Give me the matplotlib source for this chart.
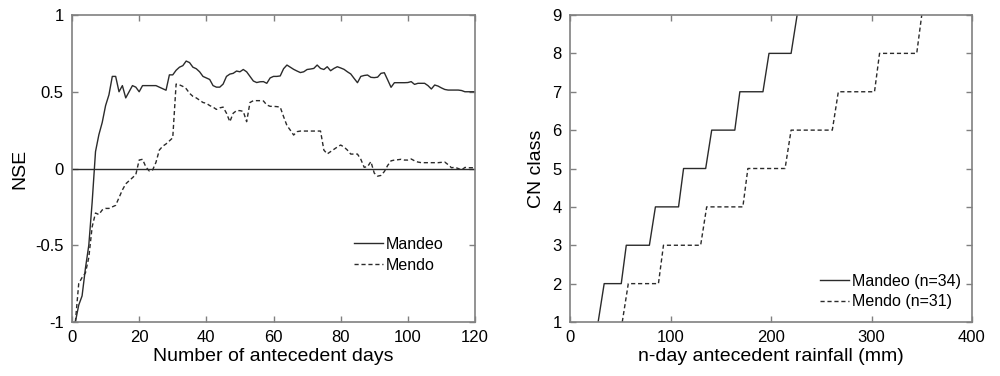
import numpy as np
import matplotlib
matplotlib.use('Agg')
import matplotlib.pyplot as plt

plt.rcParams['font.family'] = ['Liberation Sans', 'DejaVu Sans']
plt.rcParams['axes.unicode_minus'] = False

# NSE against number of antecedent days (1..120)
days = np.arange(1, 121)
nse_mandeo = [
    -1.00, -0.89, -0.83, -0.65, -0.50, -0.22, 0.11, 0.22, 0.30, 0.41,
    0.48, 0.60, 0.60, 0.50, 0.54, 0.46, 0.50, 0.54, 0.53, 0.50,
    0.54, 0.54, 0.54, 0.54, 0.54, 0.53, 0.52, 0.51, 0.61, 0.61,
    0.64, 0.66, 0.67, 0.70, 0.69, 0.66, 0.65, 0.63, 0.60, 0.59,
    0.58, 0.54, 0.53, 0.53, 0.55, 0.60, 0.615, 0.62, 0.635, 0.63,
    0.645, 0.63, 0.60, 0.57, 0.56, 0.565, 0.566, 0.555, 0.59, 0.60,
    0.60, 0.603, 0.65, 0.674, 0.66, 0.646, 0.635, 0.625, 0.63, 0.645,
    0.648, 0.652, 0.674, 0.652, 0.645, 0.663, 0.637, 0.652, 0.663, 0.655,
    0.646, 0.63, 0.616, 0.587, 0.559, 0.60, 0.606, 0.609, 0.594, 0.592,
    0.595, 0.62, 0.624, 0.577, 0.529, 0.559, 0.559, 0.559, 0.559, 0.56,
    0.566, 0.548, 0.555, 0.555, 0.555, 0.54, 0.518, 0.544, 0.537, 0.525,
    0.515, 0.511, 0.511, 0.511, 0.511, 0.508, 0.50, 0.50, 0.50, 0.50]
nse_mendo = [
    -1.00, -0.75, -0.71, -0.68, -0.58, -0.38, -0.29, -0.30, -0.27, -0.26,
    -0.26, -0.25, -0.24, -0.19, -0.14, -0.10, -0.08, -0.06, -0.04, 0.055,
    0.06, 0.01, -0.016, -0.01, 0.04, 0.12, 0.145, 0.16, 0.18, 0.20,
    0.55, 0.545, 0.535, 0.52, 0.49, 0.47, 0.46, 0.445, 0.43, 0.425,
    0.41, 0.40, 0.385, 0.395, 0.40, 0.36, 0.305, 0.36, 0.377, 0.377,
    0.372, 0.305, 0.43, 0.442, 0.442, 0.442, 0.44, 0.414, 0.405, 0.405,
    0.403, 0.40, 0.338, 0.28, 0.25, 0.218, 0.24, 0.244, 0.244, 0.244,
    0.244, 0.244, 0.244, 0.244, 0.12, 0.095, 0.11, 0.125, 0.14, 0.153,
    0.14, 0.12, 0.094, 0.094, 0.094, 0.06, 0.008, 0.012, 0.045, -0.03,
    -0.05, -0.045, -0.02, 0.02, 0.05, 0.055, 0.057, 0.06, 0.055, 0.055,
    0.062, 0.05, 0.042, 0.038, 0.038, 0.038, 0.038, 0.038, 0.038, 0.04,
    0.042, 0.025, 0.005, 0.008, 0.0, -0.01, 0.007, 0.005, 0.005, 0.005]

# CN class against n-day antecedent rainfall (step curves)
rain_mandeo = [28, 34, 51, 56, 79, 85, 108, 113, 135, 141, 164, 169, 192, 198, 220, 226]
cn_mandeo = [1, 2, 2, 3, 3, 4, 4, 5, 5, 6, 6, 7, 7, 8, 8, 9]
rain_mendo = [52, 58, 88, 93, 130, 136, 172, 177, 214, 220, 261, 267, 303, 308, 345, 350]
cn_mendo = [1, 2, 2, 3, 3, 4, 4, 5, 5, 6, 6, 7, 7, 8, 8, 9]

line_col = '#2b2b2b'
spine_col = '#808080'
dash = (0, (3, 2))


def style_axes(ax):
    for s in ax.spines.values():
        s.set_color(spine_col)
        s.set_linewidth(1.2)
    ax.tick_params(direction='in', length=4, width=1, color=spine_col,
                   top=True, right=True, labelsize=12, labelcolor='black', pad=6)


fig = plt.figure(figsize=(10, 3.76), dpi=100)

ax1 = fig.add_axes([0.072, 0.1436, 0.403, 0.8165])
ax1.axhline(0, color=line_col, lw=1)
ax1.plot(days, nse_mandeo, color=line_col, lw=1, label='Mandeo')
ax1.plot(days, nse_mendo, color=line_col, lw=1, linestyle=dash, label='Mendo')
ax1.set_xlim(0, 120)
ax1.set_ylim(-1, 1)
ax1.set_xticks([0, 20, 40, 60, 80, 100, 120])
ax1.set_yticks([-1, -0.5, 0, 0.5, 1])
ax1.set_yticklabels(['-1', '-0.5', '0', '0.5', '1'])
ax1.set_xlabel('Number of antecedent days', fontsize=14, labelpad=2)
ax1.set_ylabel('NSE', fontsize=14, labelpad=5)
style_axes(ax1)
ax1.legend(loc='upper left', bbox_to_anchor=(0.70, 0.277), frameon=False,
           fontsize=11.5, handlelength=1.8, handletextpad=0.2,
           labelspacing=0.35, borderpad=0, borderaxespad=0)

ax2 = fig.add_axes([0.570, 0.1436, 0.402, 0.8165])
ax2.plot(rain_mandeo, cn_mandeo, color=line_col, lw=1, label='Mandeo (n=34)')
ax2.plot(rain_mendo, cn_mendo, color=line_col, lw=1, linestyle=dash, label='Mendo (n=31)')
ax2.set_xlim(0, 400)
ax2.set_ylim(1, 9)
ax2.set_xticks([0, 100, 200, 300, 400])
ax2.set_yticks(range(1, 10))
ax2.set_xlabel('n-day antecedent rainfall (mm)', fontsize=14, labelpad=2)
ax2.set_ylabel('CN class', fontsize=14, labelpad=5)
style_axes(ax2)
ax2.legend(loc='upper left', bbox_to_anchor=(0.622, 0.157), frameon=False,
           fontsize=11.5, handlelength=1.8, handletextpad=0.2,
           labelspacing=0.35, borderpad=0, borderaxespad=0)

fig.savefig('out.png', dpi=100)
